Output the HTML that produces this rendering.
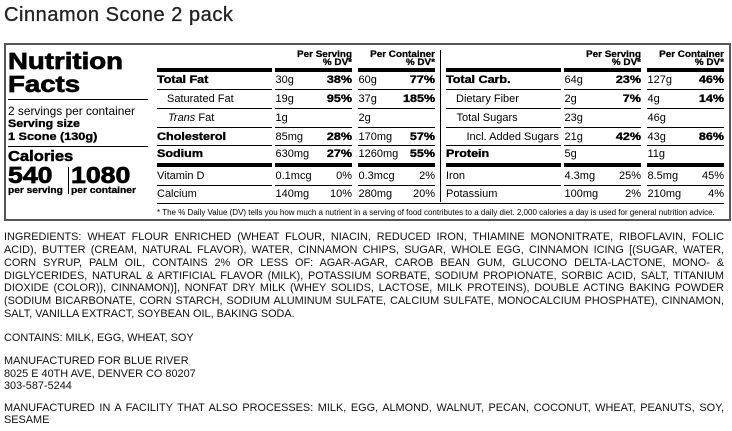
<!DOCTYPE html>
<html><head><meta charset="utf-8">
<style>
*{margin:0;padding:0;box-sizing:border-box}
html,body{width:732px;height:431px;background:#fff;overflow:hidden}
body{position:relative;font-family:"Liberation Sans",Arial,sans-serif;color:#000}
.a{position:absolute;white-space:nowrap}
.ln{position:absolute;background:#000;height:1px}
.bar{position:absolute;background:#000;height:4px}
.h{font-weight:bold;display:inline-block;transform-origin:left center;transform:scaleX(1.14);-webkit-text-stroke:0.35px #000}
.hr{transform-origin:right center}
.f11{font-size:11px}
.r1{top:72px;line-height:17px;height:17px;font-size:11px}
.r2{top:90px;line-height:18px;height:18px;font-size:11px}
.r3{top:108.5px;line-height:18px;height:18px;font-size:11px}
.r4{top:127.5px;line-height:18px;height:18px;font-size:11px}
.r5{top:146px;line-height:17px;height:17px;font-size:11px}
.r6{top:167px;line-height:18px;height:18px;font-size:11px}
.r7{top:186px;line-height:17px;height:17px;font-size:11px}
.hd{position:absolute;top:49.7px;font-size:9px;line-height:8.7px;text-align:right;font-weight:bold;-webkit-text-stroke:0.25px #000;transform:scaleX(1.1);transform-origin:right center;white-space:nowrap}
.ing{position:absolute;left:4px;width:720px;font-size:10.9px;line-height:12.85px;color:#111}
.ing div{white-space:nowrap;text-align:justify;text-align-last:justify}
.ing div.l{text-align-last:left}
</style></head><body>

<div class="a" style="left:4px;top:4.8px;font-size:20px;line-height:20px;color:#222;letter-spacing:0.55px;-webkit-text-stroke:0.3px #222">Cinnamon Scone 2 pack</div>

<!-- box -->
<div style="position:absolute;left:4px;top:43px;width:727px;height:178px;border:2px solid #555"></div>

<!-- left panel -->
<div class="a" style="left:8px;top:49.5px;font-size:23px;line-height:23px"><span class="h" style="transform:scaleX(1.2);-webkit-text-stroke:0.7px #000">Nutrition</span></div>
<div class="a" style="left:8px;top:72.8px;font-size:23px;line-height:23px"><span class="h" style="transform:scaleX(1.2);-webkit-text-stroke:0.7px #000">Facts</span></div>
<div class="ln" style="left:8px;top:98.5px;width:140px"></div>
<div class="a" style="left:8px;top:104.5px;font-size:11.9px;line-height:13px">2 servings per container</div>
<div class="a" style="left:8px;top:117.8px;font-size:11px;line-height:13px"><span class="h" style="transform:scaleX(1.12)">Serving size</span></div>
<div class="a" style="left:8px;top:130.5px;font-size:11px;line-height:13px"><span class="h" style="transform:scaleX(1.15)">1 Scone (130g)</span></div>
<div class="ln" style="left:8px;top:145.5px;width:140px"></div>
<div class="a" style="left:8px;top:150.2px;font-size:14.5px;line-height:14.5px"><span class="h" style="transform:scaleX(1.14);-webkit-text-stroke:0.5px #000">Calories</span></div>
<div class="a" style="left:8px;top:163.8px;font-size:23px;line-height:23px"><span class="h" style="transform:scaleX(1.16);-webkit-text-stroke:0.7px #000">540</span></div>
<div class="a" style="left:71px;top:163.8px;font-size:23px;line-height:23px"><span class="h" style="transform:scaleX(1.16);-webkit-text-stroke:0.7px #000">1080</span></div>
<div style="position:absolute;left:67.5px;top:166.7px;width:1px;height:27.5px;background:#000"></div>
<div class="a" style="left:8px;top:186px;font-size:9.5px;line-height:9.5px"><span class="h" style="transform:scaleX(1.07);-webkit-text-stroke:0.3px #000">per serving</span></div>
<div class="a" style="left:71px;top:186px;font-size:9.5px;line-height:9.5px"><span class="h" style="transform:scaleX(1.08);-webkit-text-stroke:0.3px #000">per container</span></div>

<!-- headers -->
<div class="hd" style="right:380px">Per Serving<br>% DV*</div>
<div class="hd" style="right:297px">Per Container<br>% DV*</div>
<div class="hd" style="right:91px">Per Serving<br>% DV*</div>
<div class="hd" style="right:8px">Per Container<br>% DV*</div>

<!-- vertical divider -->
<div style="position:absolute;left:440px;top:50px;width:1px;height:152px;background:#000"></div>

<!-- bars -->
<div class="bar" style="left:157px;top:68px;width:115px"></div>
<div class="bar" style="left:275px;top:68px;width:77px"></div>
<div class="bar" style="left:358px;top:68px;width:77px"></div>
<div class="bar" style="left:446px;top:68px;width:115px"></div>
<div class="bar" style="left:564px;top:68px;width:77px"></div>
<div class="bar" style="left:647px;top:68px;width:77px"></div>

<div class="bar" style="left:157px;top:163px;width:115px"></div>
<div class="bar" style="left:275px;top:163px;width:77px"></div>
<div class="bar" style="left:358px;top:163px;width:77px"></div>
<div class="bar" style="left:446px;top:163px;width:115px"></div>
<div class="bar" style="left:564px;top:163px;width:77px"></div>
<div class="bar" style="left:647px;top:163px;width:77px"></div>

<!-- thin lines -->
<div class="ln" style="left:157px;top:89px;width:115px"></div><div class="ln" style="left:275px;top:89px;width:77px"></div><div class="ln" style="left:358px;top:89px;width:77px"></div>
<div class="ln" style="left:446px;top:89px;width:115px"></div><div class="ln" style="left:564px;top:89px;width:77px"></div><div class="ln" style="left:647px;top:89px;width:77px"></div>
<div class="ln" style="left:157px;top:108px;width:115px"></div><div class="ln" style="left:275px;top:108px;width:77px"></div><div class="ln" style="left:358px;top:108px;width:77px"></div>
<div class="ln" style="left:446px;top:108px;width:115px"></div><div class="ln" style="left:564px;top:108px;width:77px"></div><div class="ln" style="left:647px;top:108px;width:77px"></div>
<div class="ln" style="left:157px;top:126.7px;width:115px"></div><div class="ln" style="left:275px;top:126.7px;width:77px"></div><div class="ln" style="left:358px;top:126.7px;width:77px"></div>
<div class="ln" style="left:446px;top:126.7px;width:115px"></div><div class="ln" style="left:564px;top:126.7px;width:77px"></div><div class="ln" style="left:647px;top:126.7px;width:77px"></div>
<div class="ln" style="left:157px;top:145px;width:115px"></div><div class="ln" style="left:275px;top:145px;width:77px"></div><div class="ln" style="left:358px;top:145px;width:77px"></div>
<div class="ln" style="left:446px;top:145px;width:115px"></div><div class="ln" style="left:564px;top:145px;width:77px"></div><div class="ln" style="left:647px;top:145px;width:77px"></div>
<div class="ln" style="left:157px;top:185px;width:115px"></div><div class="ln" style="left:275px;top:185px;width:77px"></div><div class="ln" style="left:358px;top:185px;width:77px"></div>
<div class="ln" style="left:446px;top:185px;width:115px"></div><div class="ln" style="left:564px;top:185px;width:77px"></div><div class="ln" style="left:647px;top:185px;width:77px"></div>
<div class="ln" style="left:157px;top:203px;width:567px"></div>

<!-- left rows -->
<div class="a r1" style="left:157px"><span class="h">Total Fat</span></div>
<div class="a r1" style="left:275.5px">30g</div>
<div class="a r1" style="right:380px"><span class="h hr">38%</span></div>
<div class="a r1" style="left:358.5px">60g</div>
<div class="a r1" style="right:297px"><span class="h hr">77%</span></div>

<div class="a r2" style="left:167px">Saturated Fat</div>
<div class="a r2" style="left:275.5px">19g</div>
<div class="a r2" style="right:380px"><span class="h hr">95%</span></div>
<div class="a r2" style="left:358.5px">37g</div>
<div class="a r2" style="right:297px"><span class="h hr">185%</span></div>

<div class="a r3" style="left:168px"><i>Trans</i> Fat</div>
<div class="a r3" style="left:275.5px">1g</div>
<div class="a r3" style="left:358.5px">2g</div>

<div class="a r4" style="left:157px"><span class="h">Cholesterol</span></div>
<div class="a r4" style="left:275.5px">85mg</div>
<div class="a r4" style="right:380px"><span class="h hr">28%</span></div>
<div class="a r4" style="left:358.5px">170mg</div>
<div class="a r4" style="right:297px"><span class="h hr">57%</span></div>

<div class="a r5" style="left:157px"><span class="h">Sodium</span></div>
<div class="a r5" style="left:275.5px">630mg</div>
<div class="a r5" style="right:380px"><span class="h hr">27%</span></div>
<div class="a r5" style="left:358.5px">1260mg</div>
<div class="a r5" style="right:297px"><span class="h hr">55%</span></div>

<div class="a r6" style="left:157px">Vitamin D</div>
<div class="a r6" style="left:275.5px">0.1mcg</div>
<div class="a r6" style="right:380px">0%</div>
<div class="a r6" style="left:358.5px">0.3mcg</div>
<div class="a r6" style="right:297px">2%</div>

<div class="a r7" style="left:157px">Calcium</div>
<div class="a r7" style="left:275.5px">140mg</div>
<div class="a r7" style="right:380px">10%</div>
<div class="a r7" style="left:358.5px">280mg</div>
<div class="a r7" style="right:297px">20%</div>

<!-- right rows -->
<div class="a r1" style="left:446px"><span class="h">Total Carb.</span></div>
<div class="a r1" style="left:564.5px">64g</div>
<div class="a r1" style="right:91px"><span class="h hr">23%</span></div>
<div class="a r1" style="left:647.5px">127g</div>
<div class="a r1" style="right:8px"><span class="h hr">46%</span></div>

<div class="a r2" style="left:456px">Dietary Fiber</div>
<div class="a r2" style="left:564.5px">2g</div>
<div class="a r2" style="right:91px"><span class="h hr">7%</span></div>
<div class="a r2" style="left:647.5px">4g</div>
<div class="a r2" style="right:8px"><span class="h hr">14%</span></div>

<div class="a r3" style="left:456.5px">Total Sugars</div>
<div class="a r3" style="left:564.5px">23g</div>
<div class="a r3" style="left:647.5px">46g</div>

<div class="a r4" style="left:466.5px">Incl. Added Sugars</div>
<div class="a r4" style="left:564.5px">21g</div>
<div class="a r4" style="right:91px"><span class="h hr">42%</span></div>
<div class="a r4" style="left:647.5px">43g</div>
<div class="a r4" style="right:8px"><span class="h hr">86%</span></div>

<div class="a r5" style="left:446px"><span class="h">Protein</span></div>
<div class="a r5" style="left:564.5px">5g</div>
<div class="a r5" style="left:647.5px">11g</div>

<div class="a r6" style="left:446px">Iron</div>
<div class="a r6" style="left:564.5px">4.3mg</div>
<div class="a r6" style="right:91px">25%</div>
<div class="a r6" style="left:647.5px">8.5mg</div>
<div class="a r6" style="right:8px">45%</div>

<div class="a r7" style="left:446px">Potassium</div>
<div class="a r7" style="left:564.5px">100mg</div>
<div class="a r7" style="right:91px">2%</div>
<div class="a r7" style="left:647.5px">210mg</div>
<div class="a r7" style="right:8px">4%</div>

<div class="a" style="left:157px;top:207.5px;font-size:8px;line-height:10px">* The % Daily Value (DV) tells you how much a nutrient in a serving of food contributes to a daily diet. 2,000 calories a day is used for general nutrition advice.</div>

<!-- ingredients -->
<div class="ing" style="top:231px">
<div>INGREDIENTS: WHEAT FLOUR ENRICHED (WHEAT FLOUR, NIACIN, REDUCED IRON, THIAMINE MONONITRATE, RIBOFLAVIN, FOLIC</div>
<div>ACID), BUTTER (CREAM, NATURAL FLAVOR), WATER, CINNAMON CHIPS, SUGAR, WHOLE EGG, CINNAMON ICING [(SUGAR, WATER,</div>
<div>CORN SYRUP, PALM OIL, CONTAINS 2% OR LESS OF: AGAR-AGAR, CAROB BEAN GUM, GLUCONO DELTA-LACTONE, MONO- &amp;</div>
<div>DIGLYCERIDES, NATURAL &amp; ARTIFICIAL FLAVOR (MILK), POTASSIUM SORBATE, SODIUM PROPIONATE, SORBIC ACID, SALT, TITANIUM</div>
<div>DIOXIDE (COLOR)), CINNAMON)], NONFAT DRY MILK (WHEY SOLIDS, LACTOSE, MILK PROTEINS), DOUBLE ACTING BAKING POWDER</div>
<div>(SODIUM BICARBONATE, CORN STARCH, SODIUM ALUMINUM SULFATE, CALCIUM SULFATE, MONOCALCIUM PHOSPHATE), CINNAMON,</div>
<div class="l">SALT, VANILLA EXTRACT, SOYBEAN OIL, BAKING SODA.</div>
</div>

<div class="ing" style="top:331.5px"><div class="l">CONTAINS: MILK, EGG, WHEAT, SOY</div></div>

<div class="ing" style="top:354.8px">
<div class="l">MANUFACTURED FOR BLUE RIVER</div>
<div class="l">8025 E 40TH AVE, DENVER CO 80207</div>
<div class="l">303-587-5244</div>
</div>

<div class="ing" style="top:401.5px">
<div>MANUFACTURED IN A FACILITY THAT ALSO PROCESSES: MILK, EGG, ALMOND, WALNUT, PECAN, COCONUT, WHEAT, PEANUTS, SOY,</div>
<div class="l">SESAME</div>
</div>

</body></html>
